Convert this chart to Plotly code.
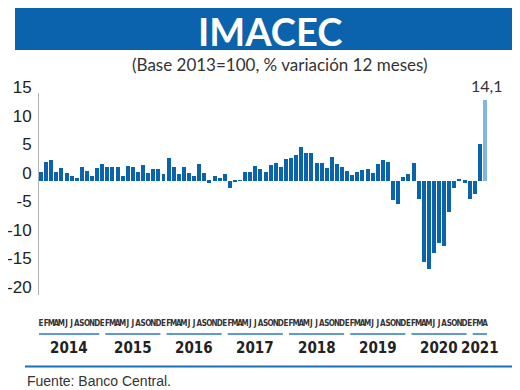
import plotly.graph_objects as go

# ---- data (IMACEC, % variación 12 meses, ene-2014 .. abr-2021) ----
v2014 = [1.5, 3.3, 3.7, 1.6, 2.2, 1.3, 0.8, 0.5, 2.4, 1.8, 0.9, 2.2]
v2015 = [3.0, 2.4, 2.4, 2.4, 0.9, 2.6, 2.4, 1.6, 2.8, 1.3, 2.1, 2.0]
v2016 = [1.2, 4.0, 2.5, 1.2, 2.5, 1.3, 0.8, 2.9, 1.3, -0.3, 0.8, 0.5]
v2017 = [1.2, -1.3, -0.2, 0.1, 1.5, 1.5, 2.6, 2.1, 1.5, 2.8, 3.1, 2.5]
v2018 = [3.8, 4.0, 4.5, 5.9, 4.9, 4.9, 3.2, 3.2, 2.3, 4.2, 3.0, 2.5]
v2019 = [1.8, 1.1, 1.5, 1.9, 2.0, 1.3, 3.0, 3.7, 3.3, -3.4, -4.0, 0.7]
v2020 = [1.2, 3.2, -3.2, -14.3, -15.5, -12.6, -10.8, -11.4, -5.4, -1.2, 0.3, -0.3]
v2021 = [-3.2, -2.3, 6.4, 14.1]

years = ["2014", "2015", "2016", "2017", "2018", "2019", "2020", "2021"]
month_letters = ["E", "F", "M", "A", "M", "J", "J", "A", "S", "O", "N", "D"]
y_ticks = [-20, -15, -10, -5, 0, 5, 10, 15]
y_tick_text = ["-20", "-15", "-10", "-5", "0", "5", "10", "15"]
last_label = "14,1"

values = v2014 + v2015 + v2016 + v2017 + v2018 + v2019 + v2020 + v2021
n = len(values)
idx = list(range(n))
letters = [month_letters[i % 12] for i in idx]

DARK = "#0a64ad"
LIGHT = "#80b6e1"
colors = [DARK] * (n - 1) + [LIGHT]

# page has an 8px body margin: figure is drawn 8px smaller and positions are page-based
PAGE_OFF = 8
W, H = 520 - PAGE_OFF, 390 - PAGE_OFF
L, R, T, B = 39, 488, 93, 295  # plot area in page pixels


def px_x(p):
    return (p - L) / (R - L)


def px_y(p):
    return (B - p) / (B - T)


NARROW = "Liberation Sans Narrow, DejaVu Sans Condensed, Roboto Condensed, Arial Narrow, sans-serif"

fig = go.Figure(go.Bar(x=idx, y=values, marker=dict(color=colors, line=dict(width=0)),
                       width=0.78, hoverinfo="x+y"))

shapes = [dict(type="rect", xref="paper", yref="paper",
               x0=px_x(15), x1=px_x(517), y0=px_y(50), y1=px_y(8),
               fillcolor="#0b63ad", line=dict(width=0), layer="below"),
          dict(type="line", xref="paper", yref="paper",
               x0=px_x(25), x1=px_x(513), y0=px_y(366.5), y1=px_y(366.5),
               line=dict(color="#1b6fb7", width=2))]

annotations = [
    dict(text="IMACEC", x=px_x(270), y=px_y(31.5), xref="paper", yref="paper",
         xanchor="center", yanchor="middle", showarrow=False,
         font=dict(family="Lato", size=38, color="white", weight="bold")),
    dict(text="(Base 2013=100, % variación 12 meses)", x=px_x(280), y=px_y(64),
         xref="paper", yref="paper", xanchor="center", yanchor="middle", showarrow=False,
         font=dict(family="Lato", size=17, color="#333333")),
    dict(text=last_label, x=n - 1, y=values[-1], xref="x", yref="y", yanchor="bottom",
         yshift=3, xshift=2, showarrow=False,
         font=dict(family="Lato", size=16, color="#333333")),
    dict(text="Fuente: Banco Central.", x=px_x(25), y=px_y(381), xref="paper", yref="paper",
         xanchor="left", yanchor="middle", showarrow=False,
         font=dict(family="Liberation Sans", size=14, color="#333333")),
]

# year underline segments and labels
for k, yr in enumerate(years):
    start = 12 * k if k == 0 else 12 * k + 1
    end = min(12 * k + 11, n - 1)
    x0, x1 = start - 0.4, end + 0.4
    shapes.append(dict(type="line", xref="x", yref="paper", x0=x0, x1=x1,
                       y0=px_y(334), y1=px_y(334),
                       line=dict(color="#2a78bd", width=1.5)))
    annotations.append(dict(text=yr, x=(x0 + x1) / 2, y=px_y(348), xref="x", yref="paper",
                            xanchor="center", yanchor="middle", showarrow=False,
                            font=dict(family=NARROW, size=15, color="#222222", weight="bold")))

fig.update_layout(
    width=W, height=H,
    margin=dict(l=L - PAGE_OFF, r=520 - R, t=T - PAGE_OFF, b=390 - B, pad=0),
    paper_bgcolor="white", plot_bgcolor="white",
    showlegend=False, bargap=0,
    shapes=shapes, annotations=annotations,
    xaxis=dict(range=[-0.4, n - 0.4], tickmode="array", tickvals=idx, ticktext=letters,
               tickangle=0, ticks="", showline=False, showgrid=False, zeroline=False,
               automargin=False,
               tickfont=dict(family=NARROW, size=8, color="#333333", weight="bold"),
               ticklabelstandoff=22),
    yaxis=dict(range=[-20, 15.4], tickmode="array", tickvals=y_ticks, ticktext=y_tick_text,
               ticks="", showline=True, linecolor="#b0b0b0", linewidth=1, automargin=False,
               showgrid=False, zeroline=False, ticklabelshift=-8, ticklabelstandoff=3,
               tickfont=dict(family="Liberation Sans", size=17, color="#222222")),
)

fig.write_html("out.html")
